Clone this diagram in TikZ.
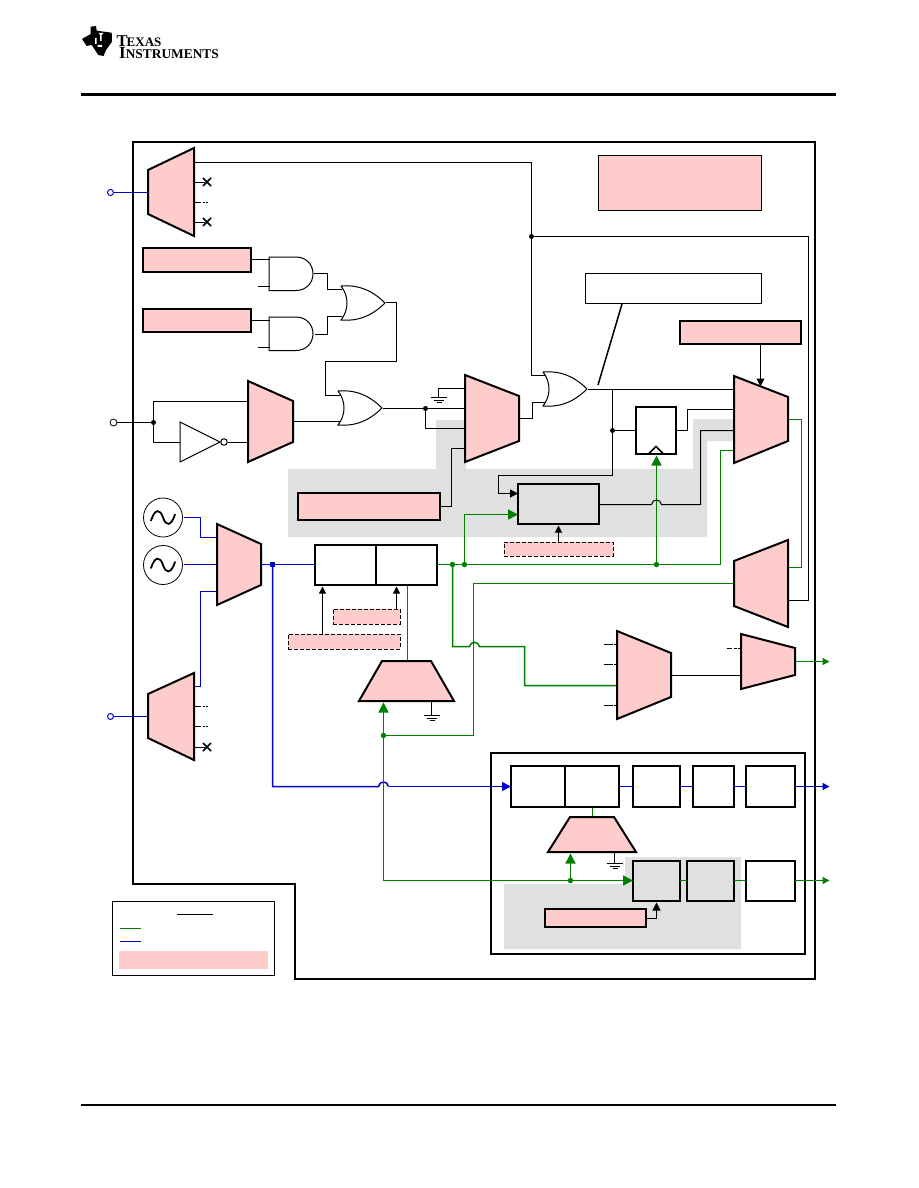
\documentclass[tikz,border=0pt]{standalone}
\usepackage{fontspec}
\setmainfont{Liberation Serif}
\usetikzlibrary{arrows.meta}
\definecolor{tipink}{HTML}{FFCCCC}
\definecolor{tigray}{HTML}{E0E0E0}
\definecolor{tigreen}{HTML}{008000}
\definecolor{tiblue}{HTML}{0000CC}
\newcommand\bx[6][thickbox]{\node[#1,minimum width={(#5-#3)*1pt},minimum height={(#6-#4)*1pt}] (#2) at ({(#3+#5)/2},{(#4+#6)/2}) {};}
\tikzset{
 x=1pt,y=-1pt,
 pxc/.style={xshift=.5pt,yshift=-.5pt},
 wire/.style={pxc,line width=1pt,black},
 gwire/.style={pxc,line width=1.5pt,tigreen},
 bwire/.style={pxc,line width=1.5pt,tiblue},
 thickbox/.style={draw=black,line width=2pt,inner sep=0pt,outer sep=0pt},
 thinbox/.style={draw=black,line width=0.8pt,inner sep=0pt,outer sep=0pt},
 pinkbox/.style={thickbox,fill=tipink},
 graybox/.style={thickbox,fill=tigray},
 dashbox/.style={draw=black,line width=1pt,dash pattern=on 4pt off 2pt,fill=tipink,inner sep=0pt,outer sep=0pt},
 mux/.style={draw=black,line width=2pt,fill=tipink,line join=miter},
 gateline/.style={draw=black,line width=1pt},
 stub/.style={pxc,line width=1pt,dash pattern=on 6pt off 2pt on 2.5pt off 1pt on 2pt off 20pt},
 stubb/.style={pxc,line width=1pt,dash pattern=on 9pt off 1.5pt on 2pt off 20pt},
 stubc/.style={pxc,line width=1pt,dash pattern=on 5pt off 2pt on 3pt off 1pt on 3pt off 20pt},
 dotb/.style={circle,fill=black,inner sep=0pt,minimum size=5pt,outer sep=0pt},
 dotg/.style={circle,fill=tigreen,inner sep=0pt,minimum size=5.5pt,outer sep=0pt},
 dotu/.style={rectangle,fill=tiblue,inner sep=0pt,minimum size=5pt,outer sep=0pt},
 ahb/.style={-{Triangle[length=8pt,width=8pt]}},
 ahg/.style={-{Triangle[length=10pt,width=10pt]}},
 ahs/.style={-{Triangle[length=7pt,width=7pt]}},
 portb/.style={circle,draw=tiblue,line width=1pt,fill=white,inner sep=0pt,minimum size=6pt},
 portk/.style={circle,draw=black,line width=0.8pt,fill=white,inner sep=0pt,minimum size=7pt},
 orgate/.pic={\draw[gateline,fill=white] (0,0) .. controls (22,-2) and (36,9) .. (44,17) .. controls (36,25) and (22,36) .. (0,34) .. controls (8,24) and (8,10) .. (0,0);},
 andgate/.pic={\draw[gateline] (27,0) -- (0,0) -- (0,33.5) -- (27,33.5) .. controls (37,33.5) and (44,26) .. (44,16.7) .. controls (44,7.5) and (37,0) .. (27,0);},
 gnd/.pic={\draw[wire] (-8,0) -- (8,0) (-5,3) -- (5,3) (-2,5) -- (3,5);},
 xmk/.pic={\draw[line width=1.6pt] (-4,-4) -- (4,4) (-4,4) -- (4,-4);},
 sinew/.pic={\draw[line width=1.8pt,line cap=round] (-12,3) .. controls (-8,-9) and (-3,-9) .. (0,0) .. controls (3,9) and (8,9) .. (12,-3);},
}
\begin{document}
\begin{tikzpicture}
\useasboundingbox[fill=white] (0,0) rectangle (918,1188);
% header / footer
\draw[line width=2.6pt] (81,94.5) -- (836,94.5);
\draw[line width=2.6pt] (81,1105) -- (836,1105);
% logo
\fill[black] (82,39) -- (90.7,34) -- (90.7,26.7) -- (96,26) -- (96.7,30.7) -- (111.7,32.7) -- (112,41.7) -- (106,50) -- (103.5,56) -- (98.3,55) -- (91.7,45) -- (86.7,46) -- cycle;
\fill[white] (99,33) rectangle (103,34.5) (100,34.5) rectangle (101.5,41) (95,38) rectangle (96.5,44) (97.5,45) rectangle (102,47);
\node[anchor=south west,inner sep=0pt,align=left,font=\bfseries] (logo) at (116.5,59.3) {\fontsize{16.5}{14}\selectfont T\kern-1pt\fontsize{13}{14}\selectfont EXAS\\[0pt]\hspace*{2.5pt}\fontsize{17}{14}\selectfont I\fontsize{13.4}{14}\selectfont NSTRUMENTS};
% outline
\draw[line width=2pt,line join=miter] (133,142) -- (815,142) -- (815,979) -- (295,979) -- (295,884) -- (133,884) -- cycle;
% gray areas
\fill[tigray] (288,469) -- (436,469) -- (436,420) -- (466,420) -- (466,469) -- (693,469) -- (693,419) -- (734,419) -- (734,441) -- (707,441) -- (707,537) -- (288,537) -- cycle;
\fill[tigray] (625,857) -- (741,857) -- (741,949) -- (504,949) -- (504,884) -- (625,884) -- cycle;
% pure pink/white annotation boxes
\bx[thinbox,fill=tipink]{notea}{598}{155}{761}{210}
\bx[thinbox,fill=white]{noteb}{585}{273}{761}{303}
% rectangles
\bx[pinkbox]{boxa}{143}{248}{251}{272}
\bx[pinkbox]{boxb}{143}{309}{251}{332}
\bx[pinkbox]{boxc}{680}{321}{801}{344}
\bx[pinkbox]{boxd}{298}{493}{440}{520}
\bx[graybox]{boxe}{518}{484}{599}{524}
\bx[dashbox]{boxf}{504}{542}{613}{556}
\bx[thickbox,fill=white]{boxg}{315}{545}{437}{585}
\draw[line width=2pt] (376,545) -- (376,585);
\bx[dashbox]{boxh}{288}{634}{400}{649}
\bx[dashbox]{boxi}{333}{609}{400}{624}
\bx[thickbox,fill=white]{ff}{636}{407}{676}{454}
% inner block
\bx[thickbox]{outerj}{491}{753}{805}{954}
\bx[thickbox]{dbl}{511}{766}{619}{807}
\draw[line width=2pt] (565,766) -- (565,807);
\bx[thickbox]{boxk}{633}{766}{680}{807}
\bx[thickbox]{boxl}{693}{766}{734}{807}
\bx[thickbox]{boxm}{746}{766}{795}{807}
\bx[graybox]{boxn}{633}{861}{680}{901}
\bx[graybox]{boxo}{687}{861}{734}{901}
\bx[thickbox]{boxp}{746}{861}{795}{901}
\bx[pinkbox]{boxq}{545}{909}{646}{927}
% legend
\bx[thinbox]{legend}{112}{901}{274}{975}
\fill[tipink] (119,951) rectangle (268,969);
\draw[wire] (176,914) -- (212,914);
\draw[gwire] (119,928) -- (140,928);
\draw[bwire] (119,941) -- (140,941);
% ports & junction nodes
\node[portb] (pa) at (110.5,192.5) {};
\node[portb] (pb) at (110.5,716.5) {};
\node[portk] (pc) at (113.5,422.5) {};
\node[dotb] (ja) at (153.5,422.5) {};
\node[dotb] (jb) at (425.5,408.5) {};
\node[dotb] (jc) at (531.5,236.5) {};
\node[dotb] (jd) at (612.5,430.5) {};
\node[dotu] (je) at (272.5,564.5) {};
\node[dotg] (jf) at (452.5,564.5) {};
\node[dotg] (jg) at (464.5,564.5) {};
\node[dotg] (jh) at (656.5,564.5) {};
\node[dotg] (ji) at (383.5,735.5) {};
\node[dotg] (jj) at (570.5,880.5) {};
\coordinate (oa) at (587.5,389.5);
\coordinate (ob) at (385.5,302.5);
% blue wires
\draw[bwire] (pa) -- (148,192);
\draw[bwire] (pb) -- (148,716);
\draw[bwire] (183,517) -- (200,517) -- (200,537) -- (217,537);
\draw[bwire] (183,564) -- (217,564);
\draw[bwire] (194,686) -- (200,686) -- (200,591) -- (217,591);
\draw[bwire] (261,564) -- (boxg.west |- je);
\draw[bwire] (je.center) -- (272,786) -- (378,786) .. controls (379,780) and (387,780) .. (388,786);
\draw[bwire,-{Triangle[length=9pt,width=9pt]}] (388,786) -- (dbl.west |- 0,786);
\draw[bwire] (dbl.east) -- (boxk.west);
\draw[bwire] (boxk.east) -- (boxl.west);
\draw[bwire] (boxl.east) -- (boxm.west);
\draw[bwire,-{Triangle[length=7pt,width=7pt]}] (boxm.east) -- (829,786);
% green wires
\draw[gwire] (boxg.east |- jf) -- (720,564) -- (720,450) -- (734,450);
\draw[gwire,ahg] (jh.center) -- (656,455);
\draw[gwire,ahg] (jg.center) -- (464,514) -- (boxe.west |- 0,514);
\draw[gwire] (jf.center) -- (452,646) -- (469,646) .. controls (470,640.5) and (478,640.5) .. (479,646) -- (524,646) -- (524,685) -- (617,685);
\draw[gwire] (734,583) -- (473,583) -- (473,735) -- (ji.center);
\draw[gwire] (788,419) -- (801,419) -- (801,567) -- (788,567);
\draw[gwire] (407,585) -- (407,661);
\draw[gwire,ahg] (ji.center) -- (383,702);
\draw[gwire,ahg] (ji.center) -- (383,880) -- (boxn.west |- jj);
\draw[gwire] (592,807) -- (592,817);
\draw[gwire,ahg] (jj.center) -- (570,853);
\draw[gwire] (boxn.east |- 0,880) -- (boxo.west |- 0,880);
\draw[gwire] (boxo.east |- 0,880) -- (boxp.west |- 0,880);
\draw[gwire,-{Triangle[length=7pt,width=7pt]}] (boxp.east |- 0,880) -- (829,880);
\draw[gwire,-{Triangle[length=7pt,width=7pt]}] (795,661) -- (829,661);
% black wires
\draw[wire] (194,162) -- (531,162) -- (531,375) -- (544,375);
\draw[wire] (jc.center) -- (808,236) -- (808,600) -- (788,600);
\draw[wire] (boxa.east |- 0,259) -- (269,259);
\draw[wire] (257,286) -- (269,286);
\draw[wire] (boxb.east |- 0,320) -- (269,320);
\draw[wire] (257,347) -- (269,347);
\draw[wire] (313,273) -- (327,273) -- (327,289) -- (341,289);
\draw[wire] (314,334) -- (327,334) -- (327,316) -- (341,316);
\draw[wire] (ob) -- (396,302) -- (396,361) -- (325,361) -- (325,395) -- (339,395);
\draw[wire] (293,421) -- (342,421);
\draw[wire] (pc) -- (ja);
\draw[wire] (ja.center) -- (153,401) -- (248,401);
\draw[wire] (ja.center) -- (153,442) -- (180,442);
\draw[wire] (227,442) -- (248,442);
\draw[wire] (382,408) -- (465,408);
\draw[wire] (jb.center) -- (425,428) -- (465,428);
\draw[wire] (465,388) -- (438,388) -- (438,397);
\draw[wire] (465,448) -- (451,448) -- (451,506) -- (boxd.east |- 0,506);
\draw[wire] (519,418) -- (532,418) -- (532,402) -- (544,402);
\draw[wire] (oa) -- (734,389);
\draw[wire,ahb] (612,389) -- (612,475) -- (498,475) -- (498,493) -- (boxe.west |- 0,493);
\draw[wire] (jd.center) -- (ff.west |- jd);
\draw[wire] (ff.east |- 0,430) -- (687,430) -- (687,409) -- (734,409);
\draw[wire] (734,430) -- (700,430) -- (700,504) -- (661,504) .. controls (660,498) and (652,498) .. (651,504) -- (boxe.east |- 0,504);
\draw[line width=1.5pt] (622,304) -- (598,385);
\draw[wire,ahb] (760,344) -- (760,386);
\draw[wire,ahs] (boxf.north) -- (558,525);
\draw[wire,ahs] (322,634) -- (322,586);
\draw[wire,ahs] (396,609) -- (396,586);
\draw[wire] (671,675) -- (741,675);
\draw[wire,ahb] (646,918) -- (656,918) -- (656,902);
\draw[wire] (431,701) -- (431,715);
\draw[wire] (614,852) -- (614,863);
\pic at (438,397) {gnd};
\pic at (431,715) {gnd};
\pic at (614,863) {gnd};
% stubs
\draw[wire] (194,182) -- (204,182);
\draw[wire] (194,222) -- (204,222);
\draw[stub] (194,202) -- (208,202);
\draw[stub] (194,706) -- (208,706);
\draw[stub] (194,726) -- (208,726);
\draw[wire] (194,747) -- (204,747);
\draw[stubb] (603,644) -- (616,644);
\draw[stubb] (603,664) -- (616,664);
\draw[stubb] (603,705) -- (616,705);
\draw[stubc] (726,648) -- (741,648);
\pic at (207,182) {xmk};
\pic at (207,222) {xmk};
\pic at (207,747) {xmk};
% gates
\pic at (269,257) {andgate};
\pic at (269,317) {andgate};
\pic at (341,286) {orgate};
\pic at (338,391) {orgate};
\pic at (543,372) {orgate};
\draw[gateline,fill=white] (180,422) -- (220,442) -- (180,462) -- cycle;
\node[circle,draw=black,line width=1pt,fill=white,inner sep=0pt,minimum size=6.5pt] (bub) at (224,442) {};
% oscillators
\node[circle,draw=black,line width=0.8pt,inner sep=0pt,minimum size=39pt] (osca) at (163,517.5) {};
\node[circle,draw=black,line width=0.8pt,inner sep=0pt,minimum size=39pt] (oscb) at (163,565) {};
\pic at (osca) {sinew};
\pic at (oscb) {sinew};
% muxes
\draw[mux] (148,170) -- (194,148) -- (194,236) -- (148,214) -- cycle;
\draw[mux] (148,694) -- (194,673) -- (194,760) -- (148,738) -- cycle;
\draw[mux] (248,381) -- (293,401) -- (293,442) -- (248,462) -- cycle;
\draw[mux] (217,524) -- (261,544) -- (261,585) -- (217,605) -- cycle;
\draw[mux] (465,375) -- (519,396) -- (519,441) -- (465,462) -- cycle;
\draw[mux] (734,376) -- (788,397) -- (788,441) -- (734,463) -- cycle;
\draw[mux] (734,561) -- (788,540) -- (788,627) -- (734,606) -- cycle;
\draw[mux] (617,631) -- (671,653) -- (671,697) -- (617,719) -- cycle;
\draw[mux] (741,634) -- (795,648) -- (795,675) -- (741,689) -- cycle;
\draw[mux] (382,661) -- (431,661) -- (454,701) -- (359,701) -- cycle;
\draw[mux] (570,817) -- (614,817) -- (636,852) -- (548,852) -- cycle;
% clock marker
\draw[line width=1.5pt] (649,453.5) -- (656,446.5) -- (663,453.5);
\end{tikzpicture}
\end{document}
